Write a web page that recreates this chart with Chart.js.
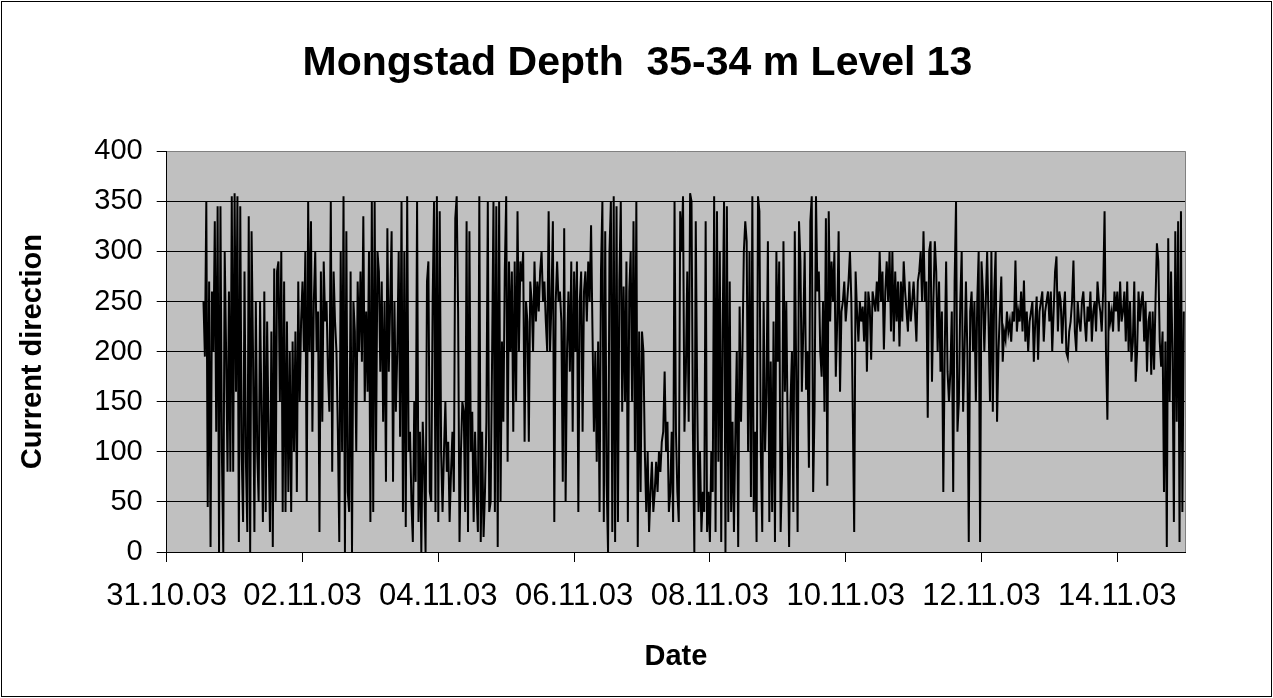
<!DOCTYPE html>
<html><head><meta charset="utf-8">
<script src="https://cdn.jsdelivr.net/npm/chart.js@4/dist/chart.umd.min.js"></script>
<style>html,body{margin:0;padding:0;background:#fff;}#wrap{width:1273px;height:698px;}</style>
</head><body><div id="wrap"><canvas id="c" width="1273" height="698"></canvas></div>
<script>
const chartTitle = 'Mongstad Depth  35-34 m Level 13';
const yAxisTitle = 'Current direction';
const xAxisTitle = 'Date';
const xTickDays = [0, 2, 4, 6, 8, 10, 12, 14];
const xTickLabels = ['31.10.03', '02.11.03', '04.11.03', '06.11.03', '08.11.03', '10.11.03', '12.11.03', '14.11.03'];
const yTickValues = [0, 50, 100, 150, 200, 250, 300, 350, 400];
const firstSlot = 26;      // 31.10.03 13:00, half-hour readings
const slotsPerDay = 48;

const dir_31_10 = [250, 195, 350, 45, 270, 5, 260, 200, 330, 120, 345, 0, 345, 100, 0, 300, 200, 80, 260, 80, 355, 80];
const dir_01_11 = [358, 160, 355, 10, 345, 100, 30, 280, 90, 20, 335, 0, 320, 200, 20, 250, 100, 50, 250, 140, 30, 260, 40, 230, 120, 20, 220, 5, 283, 50, 280, 290, 150, 300, 40, 270, 40, 230, 60, 200, 40, 210, 100, 220, 60, 270, 150, 230];
const dir_02_11 = [270, 200, 300, 50, 350, 200, 330, 120, 250, 300, 200, 240, 20, 280, 130, 290, 230, 250, 180, 140, 350, 80, 280, 230, 200, 120, 10, 300, 100, 355, 0, 320, 60, 40, 280, 0, 250, 220, 100, 270, 200, 280, 190, 335, 150, 240, 160, 300];
const dir_03_11 = [30, 350, 40, 350, 100, 300, 280, 180, 270, 130, 250, 70, 323, 180, 250, 320, 70, 250, 140, 200, 300, 115, 350, 40, 300, 25, 355, 100, 120, 50, 10, 150, 70, 350, 30, 120, 0, 130, 80, 0, 270, 290, 60, 50, 250, 350, 40, 355];
const dir_04_11 = [30, 340, 100, 40, 100, 150, 80, 110, 30, 80, 120, 60, 333, 355, 240, 10, 100, 150, 140, 40, 330, 20, 320, 100, 140, 30, 120, 60, 20, 355, 10, 120, 15, 60, 130, 350, 40, 50, 190, 350, 40, 345, 5, 350, 50, 210, 130, 280];
const dir_05_11 = [355, 90, 290, 200, 280, 120, 290, 150, 340, 200, 290, 270, 300, 110, 250, 230, 110, 270, 250, 200, 290, 230, 270, 240, 280, 300, 250, 270, 230, 200, 340, 200, 250, 330, 30, 250, 290, 250, 260, 230, 70, 323, 50, 200, 260, 180, 290, 120];
const dir_06_11 = [280, 200, 290, 40, 250, 280, 120, 260, 280, 230, 290, 250, 326, 220, 120, 200, 90, 210, 40, 280, 350, 30, 320, 70, 0, 300, 350, 20, 355, 10, 345, 30, 270, 350, 140, 265, 150, 290, 30, 260, 300, 150, 330, 100, 350, 5, 220, 60];
const dir_07_11 = [220, 200, 100, 40, 100, 20, 60, 90, 40, 60, 90, 60, 100, 80, 110, 120, 180, 100, 130, 40, 60, 120, 30, 350, 120, 60, 30, 340, 300, 355, 120, 180, 280, 130, 358, 350, 120, 0, 330, 160, 40, 100, 20, 60, 40, 330, 20, 60];
const dir_08_11 = [10, 100, 60, 355, 20, 340, 90, 300, 10, 222, 350, 0, 345, 30, 270, 40, 130, 20, 120, 200, 5, 245, 130, 200, 300, 330, 310, 100, 300, 55, 355, 40, 120, 10, 355, 340, 100, 20, 250, 100, 160, 310, 30, 190, 40, 230, 10, 300];
const dir_09_11 = [190, 290, 20, 80, 310, 160, 250, 120, 5, 150, 200, 40, 320, 180, 20, 330, 290, 160, 220, 300, 162, 200, 84, 330, 355, 60, 145, 355, 260, 280, 200, 175, 250, 140, 333, 66, 340, 230, 290, 250, 300, 175, 230, 320, 160, 240, 250, 270];
const dir_10_11 = [230, 250, 270, 300, 250, 140, 20, 280, 240, 210, 250, 230, 245, 210, 260, 180, 260, 245, 192, 260, 250, 240, 270, 240, 300, 250, 280, 202, 260, 290, 250, 300, 220, 300, 210, 280, 230, 270, 205, 270, 230, 290, 260, 240, 220, 270, 230, 250];
const dir_11_11 = [270, 240, 210, 270, 280, 300, 250, 320, 250, 270, 134, 300, 310, 170, 250, 310, 280, 200, 270, 180, 240, 60, 200, 290, 180, 150, 180, 240, 60, 270, 350, 120, 150, 250, 300, 140, 200, 270, 200, 10, 240, 260, 200, 250, 150, 250, 300, 10];
const dir_12_11 = [290, 260, 200, 250, 300, 230, 150, 300, 140, 260, 300, 130, 200, 240, 275, 190, 220, 212, 240, 220, 230, 210, 240, 230, 291, 220, 240, 230, 260, 220, 271, 210, 240, 200, 230, 240, 250, 190, 230, 255, 192, 240, 250, 260, 210, 240, 250, 260];
const dir_13_11 = [230, 260, 200, 240, 280, 295, 220, 260, 250, 208, 240, 260, 199, 194, 220, 230, 250, 291, 220, 200, 250, 230, 220, 250, 260, 230, 210, 245, 230, 260, 210, 240, 250, 220, 270, 250, 240, 220, 260, 340, 200, 132, 250, 230, 240, 220, 260, 240];
const dir_14_11 = [260, 220, 270, 230, 240, 260, 210, 270, 200, 250, 190, 210, 270, 170, 200, 260, 230, 250, 260, 210, 250, 180, 230, 240, 177, 240, 182, 250, 308, 290, 210, 185, 220, 60, 210, 5, 313, 150, 280, 200, 30, 320, 130, 330, 10, 340, 40, 240];

const dailySeries = [dir_31_10, dir_01_11, dir_02_11, dir_03_11, dir_04_11, dir_05_11, dir_06_11, dir_07_11, dir_08_11, dir_09_11, dir_10_11, dir_11_11, dir_12_11, dir_13_11, dir_14_11];

const points = [];
dailySeries.forEach((vals, day) => {
  const start = day === 0 ? firstSlot : 0;
  vals.forEach((v, k) => points.push({ x: day + (start + k) / slotsPerDay, y: v }));
});

const FONT = '"Liberation Sans", Arial, sans-serif';

const frame = {
  id: 'frame',
  beforeDraw(chart) {
    const { ctx, chartArea: a } = chart;
    ctx.save();
    ctx.fillStyle = '#fff';
    ctx.fillRect(0, 0, chart.width, chart.height);
    ctx.fillStyle = '#C0C0C0';
    ctx.fillRect(a.left, a.top, a.right - a.left, a.bottom - a.top);
    ctx.restore();
  },
  afterDraw(chart) {
    const { ctx, chartArea: a } = chart;
    ctx.save();
    ctx.strokeStyle = '#808080';
    ctx.lineWidth = 1;
    ctx.beginPath();
    ctx.moveTo(Math.round(a.right) + 0.5, a.top);
    ctx.lineTo(Math.round(a.right) + 0.5, a.bottom);
    ctx.stroke();
    ctx.strokeStyle = '#000';
    ctx.strokeRect(1.5, 1.5, chart.width - 3, chart.height - 3);
    ctx.restore();
  }
};

new Chart(document.getElementById('c'), {
  type: 'line',
  data: {
    datasets: [{
      data: points,
      borderColor: '#000000',
      borderWidth: 2,
      pointRadius: 0,
      tension: 0,
      fill: false
    }]
  },
  options: {
    responsive: false,
    animation: false,
    devicePixelRatio: 1,
    layout: { padding: { top: 2, left: 2, right: 0, bottom: 2 } },
    plugins: {
      legend: { display: false },
      tooltip: { enabled: false },
      title: {
        display: true,
        text: chartTitle,
        color: '#000',
        font: { family: FONT, size: 41, weight: 'bold' },
        padding: { top: 37, bottom: 63 }
      }
    },
    scales: {
      x: {
        type: 'linear',
        min: 0,
        max: 15,
        afterFit(s) { s.height = 144; },
        afterBuildTicks(s) { s.ticks = xTickDays.map(v => ({ value: v })); },
        ticks: {
          color: '#000',
          font: { family: FONT, size: 31 },
          padding: 16,
          maxRotation: 0,
          autoSkip: false,
          callback: (v) => xTickLabels[xTickDays.indexOf(v)]
        },
        grid: { drawOnChartArea: false, drawTicks: true, tickLength: 10, tickColor: '#000', color: '#000' },
        border: { display: true, color: '#000', width: 1 },
        title: {
          display: true,
          text: xAxisTitle,
          color: '#000',
          font: { family: FONT, size: 29, weight: 'bold' },
          padding: { top: 0, bottom: 22 }
        }
      },
      y: {
        min: 0,
        max: 400,
        afterFit(s) { s.width = 164.7; },
        afterBuildTicks(s) { s.ticks = yTickValues.map(v => ({ value: v })); },
        ticks: {
          color: '#000',
          font: { family: FONT, size: 29 },
          padding: 14
        },
        grid: {
          color: (c) => (c.tick && c.tick.value === 400 ? '#808080' : '#000'),
          tickColor: '#000',
          tickLength: 10,
          lineWidth: 1
        },
        border: { display: true, color: '#000', width: 1 },
        title: {
          display: true,
          text: yAxisTitle,
          color: '#000',
          font: { family: FONT, size: 29, weight: 'bold' },
          padding: { top: 14, bottom: 0 }
        }
      },
      yRightGap: {
        axis: 'y',
        position: 'right',
        display: true,
        afterFit(s) { s.width = 87.8; },
        ticks: { display: false },
        grid: { display: false, drawTicks: false },
        border: { display: false },
        title: { display: false }
      }
    }
  },
  plugins: [frame]
});
</script>
</body></html>
